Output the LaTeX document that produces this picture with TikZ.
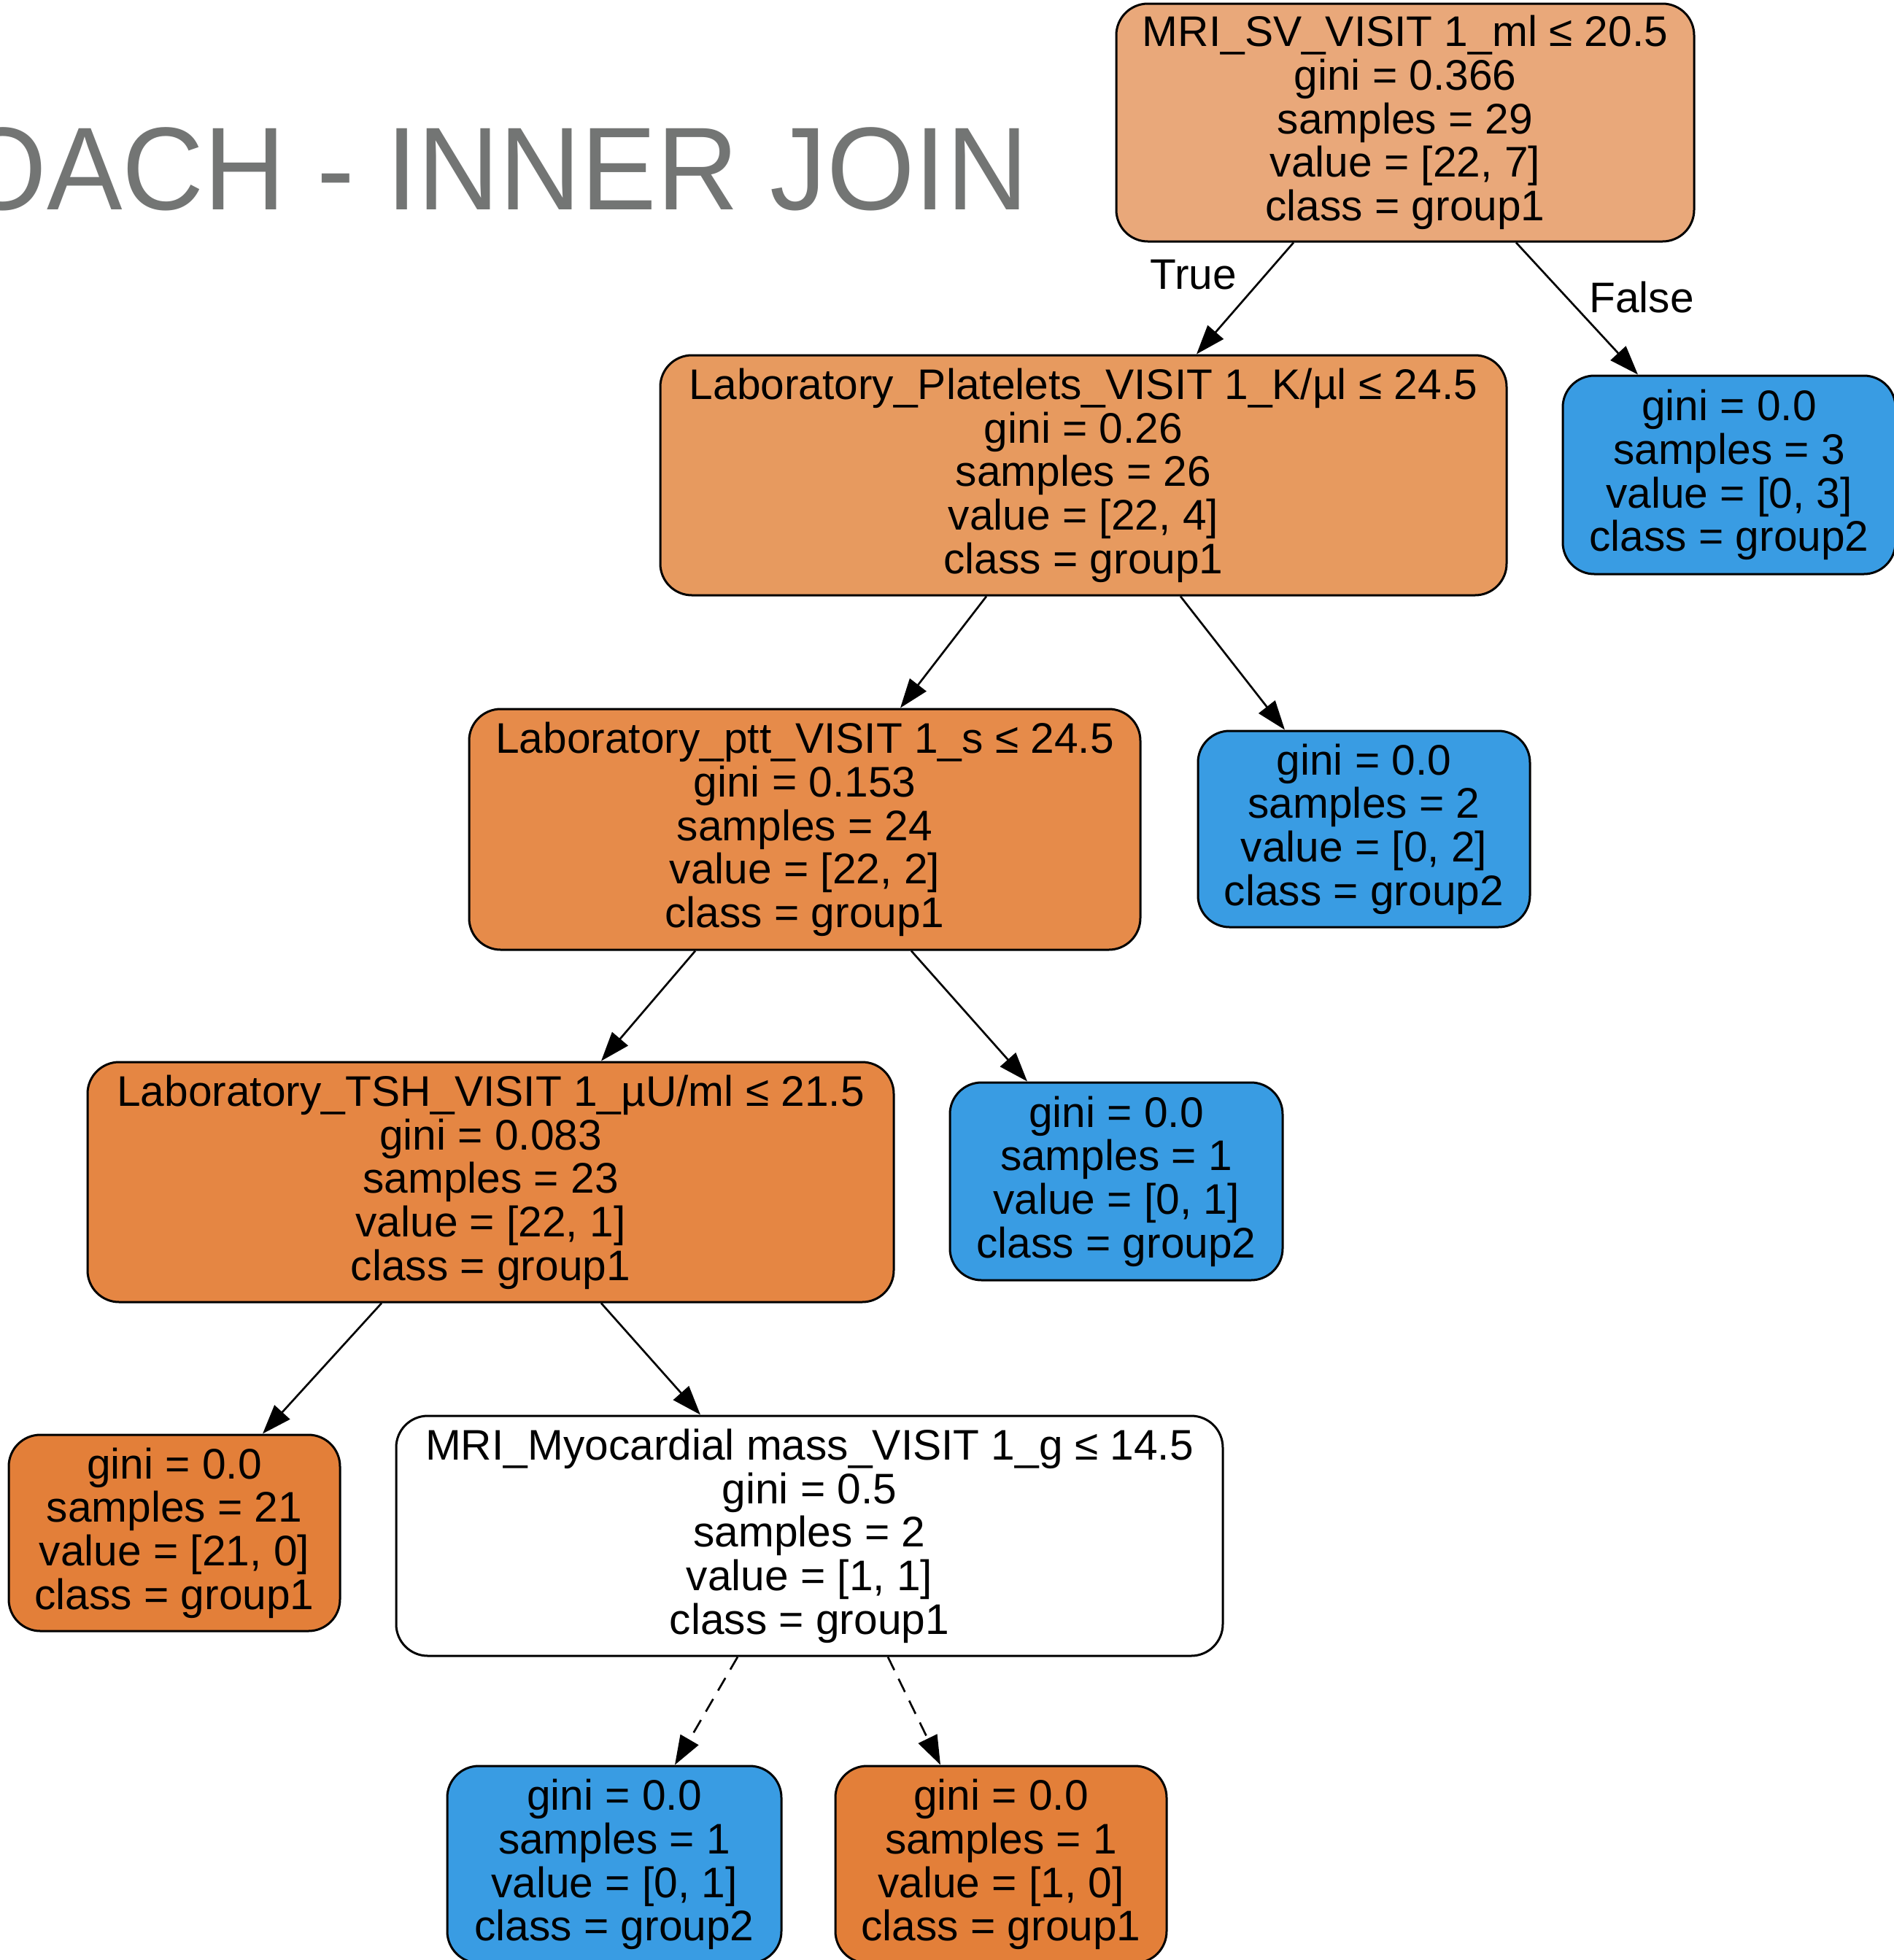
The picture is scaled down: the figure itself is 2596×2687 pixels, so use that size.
\documentclass[tikz,border=0pt]{standalone}
\usepackage{fontspec}
\setmainfont{Liberation Sans}
\usetikzlibrary{arrows.meta}
\definecolor{c0}{HTML}{E9A87A}
\definecolor{c1}{HTML}{E79A5F}
\definecolor{c2}{HTML}{E68B4A}
\definecolor{c3}{HTML}{E58643}
\definecolor{corange}{HTML}{E37F39}
\definecolor{cblue}{HTML}{399CE3}
\definecolor{titlegray}{HTML}{737574}
\tikzset{
  tn/.style={draw=black, line width=0.9pt, rounded corners=13pt, align=center, inner sep=0pt,
    font=\fontsize{17.6pt}{17.9pt}\selectfont},
  edge/.style={draw=black, line width=0.8pt, -{Triangle[length=12pt,width=8.5pt]}},
  dedge/.style={edge, dash pattern=on 6pt off 4pt},
  elab/.style={inner sep=0pt, font=\fontsize{17.6pt}{17.9pt}\selectfont}
}
\begin{document}
\begin{tikzpicture}[x=0.3pt, y=-0.3pt]
\useasboundingbox (0,0) rectangle (2596,2687);
\clip (0,0) rectangle (2596,2687);
\node[anchor=base east, inner sep=0pt, text=titlegray, font=\fontsize{48.5pt}{50pt}\selectfont] (title) at (1410,287) {\scalebox{0.96}[1]{OACH - INNER JOIN}};

\node[tn, fill=c0, minimum width={792*0.3pt}, minimum height={326*0.3pt}] (root) at (1926,168)
  {MRI\_SV\_VISIT 1\_ml ≤ 20.5\\gini = 0.366\\samples = 29\\value = [22, 7]\\class = group1};
\node[tn, fill=c1, minimum width={1160*0.3pt}, minimum height={329*0.3pt}] (l1) at (1485,651.5)
  {Laboratory\_Platelets\_VISIT 1\_K/µl ≤ 24.5\\gini = 0.26\\samples = 26\\value = [22, 4]\\class = group1};
\node[tn, fill=cblue, minimum width={456*0.3pt}, minimum height={272*0.3pt}] (r1) at (2370,651)
  {gini = 0.0\\samples = 3\\value = [0, 3]\\class = group2};
\node[tn, fill=c2, minimum width={920*0.3pt}, minimum height={330*0.3pt}] (l2) at (1103,1137)
  {Laboratory\_ptt\_VISIT 1\_s ≤ 24.5\\gini = 0.153\\samples = 24\\value = [22, 2]\\class = group1};
\node[tn, fill=cblue, minimum width={455*0.3pt}, minimum height={269*0.3pt}] (r2) at (1869.5,1136.5)
  {gini = 0.0\\samples = 2\\value = [0, 2]\\class = group2};
\node[tn, fill=c3, minimum width={1105*0.3pt}, minimum height={329*0.3pt}] (l3) at (672.5,1620.5)
  {Laboratory\_TSH\_VISIT 1\_µU/ml ≤ 21.5\\gini = 0.083\\samples = 23\\value = [22, 1]\\class = group1};
\node[tn, fill=cblue, minimum width={456*0.3pt}, minimum height={271*0.3pt}] (r3) at (1530,1619.5)
  {gini = 0.0\\samples = 1\\value = [0, 1]\\class = group2};
\node[tn, fill=corange, minimum width={454*0.3pt}, minimum height={269*0.3pt}] (l4) at (239,2101.5)
  {gini = 0.0\\samples = 21\\value = [21, 0]\\class = group1};
\node[tn, fill=white, minimum width={1133*0.3pt}, minimum height={329*0.3pt}] (r4) at (1109.5,2105.5)
  {MRI\_Myocardial mass\_VISIT 1\_g ≤ 14.5\\gini = 0.5\\samples = 2\\value = [1, 1]\\class = group1};
\node[tn, fill=cblue, minimum width={458*0.3pt}, minimum height={270*0.3pt}] (l5) at (842,2556)
  {gini = 0.0\\samples = 1\\value = [0, 1]\\class = group2};
\node[tn, fill=corange, minimum width={454*0.3pt}, minimum height={270*0.3pt}] (r5) at (1372,2556)
  {gini = 0.0\\samples = 1\\value = [1, 0]\\class = group1};

\draw[edge] ([xshift=-45.9pt]root.south) -- ([xshift=46.5pt]l1.north);
\draw[edge] ([xshift=45.6pt]root.south) -- ([xshift=-37.5pt]r1.north);
\draw[edge] ([xshift=-39.9pt]l1.south) -- ([xshift=39.3pt]l2.north);
\draw[edge] ([xshift=39.9pt]l1.south) -- ([xshift=-32.55pt]r2.north);
\draw[edge] ([xshift=-45pt]l2.south) -- ([xshift=45.45pt]l3.north);
\draw[edge] ([xshift=43.8pt]l2.south) -- ([xshift=-36.6pt]r3.north);
\draw[edge] ([xshift=-44.85pt]l3.south) -- ([xshift=36.3pt]l4.north);
\draw[edge] ([xshift=45.45pt]l3.south) -- ([xshift=-44.85pt]r4.north);
\draw[dedge] ([xshift=-29.55pt]r4.south) -- ([xshift=24.9pt]l5.north);
\draw[dedge] ([xshift=32.25pt]r4.south) -- ([xshift=-24.9pt]r5.north);

\node[elab] (tlab) at (1636,377) {True};
\node[elab] (flab) at (2250,408) {False};
\end{tikzpicture}
\end{document}
